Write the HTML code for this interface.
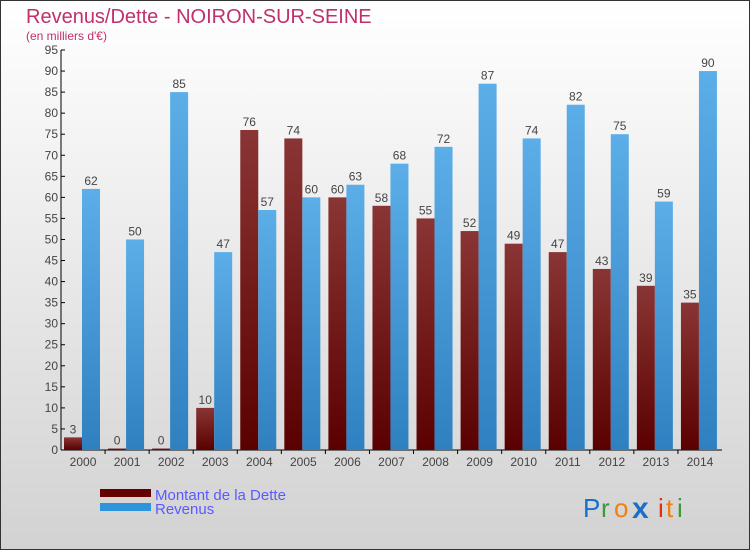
<!DOCTYPE html>
<html><head><meta charset="utf-8"><style>
body{margin:0;width:750px;height:550px;overflow:hidden;font-family:"Liberation Sans",sans-serif}
</style></head><body>
<svg id="c" width="750" height="550" xmlns="http://www.w3.org/2000/svg">
<defs>
<linearGradient id="bg" x1="0" y1="0" x2="0" y2="1"><stop offset="0" stop-color="#ffffff"/><stop offset="1" stop-color="#d2d2d2"/></linearGradient>
<linearGradient id="gd" x1="0" y1="0" x2="0" y2="1"><stop offset="0" stop-color="#8a3535"/><stop offset="1" stop-color="#5a0000"/></linearGradient>
<linearGradient id="gr" x1="0" y1="0" x2="0" y2="1"><stop offset="0" stop-color="#5caee8"/><stop offset="1" stop-color="#2f80c0"/></linearGradient>
</defs>
<rect x="0.5" y="0.5" width="749" height="549" fill="url(#bg)" stroke="#333"/>
<text x="26" y="23" font-size="20" fill="#c0306a">Revenus/Dette - NOIRON-SUR-SEINE</text>
<text x="26" y="40" font-size="12" fill="#c0306a">(en milliers d'€)</text>
<g id="axes"></g><g id="bars"></g>
<rect x="100" y="489" width="51" height="8" fill="#650000"/>
<rect x="100" y="503" width="51" height="8" fill="#2e95dd"/>
<text x="155" y="500" font-size="15" fill="#5a5aff">Montant de la Dette</text>
<text x="155" y="514" font-size="15" fill="#5a5aff">Revenus</text>
<g font-size="26" font-family="'Liberation Sans',sans-serif">
<text x="583" y="517" fill="#1a70c8">P</text><text x="601" y="517" fill="#3a9a3a">r</text><text x="614" y="517" fill="#f08010">o</text><text x="632" y="518" fill="#1a70c8" font-weight="bold" font-size="30">x</text><text x="658" y="517" fill="#e03010">i</text><text x="666" y="517" fill="#f08010">t</text><text x="677" y="517" fill="#3a9a3a">i</text>
</g>
</svg>
<script>
const years=["2000","2001","2002","2003","2004","2005","2006","2007","2008","2009","2010","2011","2012","2013","2014"];
const dette=[3,0,0,10,76,74,60,58,55,52,49,47,43,39,35];
const revenus=[62,50,85,47,57,60,63,68,72,87,74,82,75,59,90];
const yTicks=[0,5,10,15,20,25,30,35,40,45,50,55,60,65,70,75,80,85,90,95];
const NS="http://www.w3.org/2000/svg";
const x0=61,x1=722,y0=450,yTop=50,ymax=95;
const gw=(x1-x0)/years.length;
const Y=v=>y0-v*(y0-yTop)/ymax;
const X=i=>x0+i*gw;
function mk(t,a,p){const e=document.createElementNS(NS,t);for(const k in a)e.setAttribute(k,a[k]);p.appendChild(e);return e;}
const ax=document.getElementById('axes'),bs=document.getElementById('bars');
const yl=mk('line',{x1:x0,x2:x0,y1:yTop,y2:y0,stroke:'#000'},ax);


const xl=mk('line',{x1:x0,x2:x1,y1:y0,y2:y0,stroke:'#000'},ax);


yTicks.forEach(v=>{
 mk('line',{x1:x0,x2:x0+4,y1:Y(v),y2:Y(v),stroke:'#000'},ax);
 const t=mk('text',{x:x0-3,y:Y(v)+4,'font-size':12,fill:'#444','text-anchor':'end'},ax);t.textContent=v;
 
 
});
years.forEach((yr,i)=>{
 const t=mk('text',{x:X(i)+gw/2,y:y0+16,'font-size':12,fill:'#444','text-anchor':'middle'},ax);t.textContent=yr;
 
 
 if(i>0)mk('line',{x1:X(i),x2:X(i),y1:y0,y2:y0+4,stroke:'#000'},ax);
 [[dette[i],'url(#gd)',3,'bar-dette'],[revenus[i],'url(#gr)',21,'bar-revenus']].forEach(([v,f,o,n])=>{
  const h=Math.max(y0-Y(v),1.5);
  const r=mk('rect',{x:X(i)+o,y:y0-h,width:18,height:h,fill:f},bs);
  
  
  const l=mk('text',{x:X(i)+o+9,y:y0-h-4,'font-size':12,fill:'#444','text-anchor':'middle'},bs);l.textContent=v;
  
  
 });
});
</script>
</body></html>
